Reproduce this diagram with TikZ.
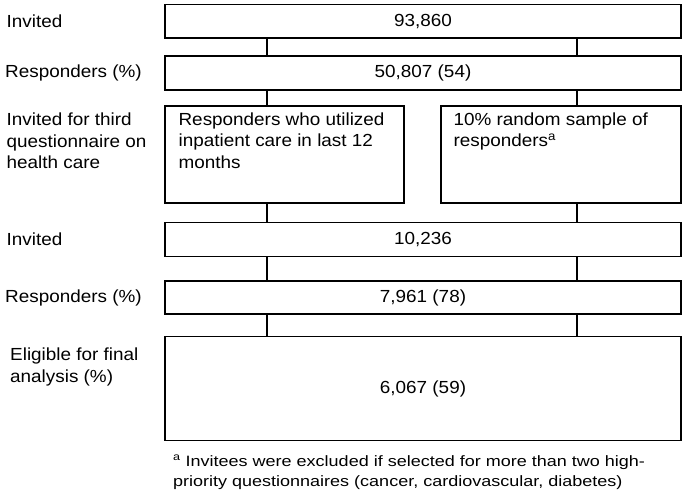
\documentclass[tikz,border=0pt]{standalone}
\usepackage{fontspec}
\setmainfont{Liberation Sans}[FakeStretch=1.08]
\newfontfamily\notefont{Liberation Sans}[FakeStretch=1.2]
\usetikzlibrary{positioning}

\begin{document}
\begin{tikzpicture}[x=1pt, y=-1pt, every node/.style={font=\fontsize{17.5}{21.5}\selectfont, inner sep=0pt}, box/.style={draw, line width=1.2pt, minimum width=516pt, minimum height=34pt}, lab/.style={anchor=west}, txt/.style={anchor=north west, align=left}, link/.style={line width=1.2pt}]
	\useasboundingbox (0,0) rectangle (685,493);
	\node[box, minimum height=33.5pt] (b1) at (423,21.25) {93,860};
	\node[box] (b2) at (423,73) {50,807 (54)};
	\node[box, minimum width=239pt, minimum height=97pt] (b3a) at (284.5,154.5) {};
	\node[box, minimum width=240pt, minimum height=97pt] (b3b) at (561,154.5) {};
	\node[box] (b4) at (423,239.7) {10,236};
	\node[box, minimum height=33pt] (b5) at (423,297.5) {7,961 (78)};
	\node[box, minimum height=104pt] (b6) at (423,388.7) {6,067 (59)};
	\node[txt, below right=6.9pt and 14pt of b3a.north west] (t3a) {Responders who utilized\\inpatient care in last 12\\months};
	\node[txt, below right=6.9pt and 13pt of b3b.north west] (t3b) {10\% random sample of\\responders\textsuperscript{a}};
	% row labels
	\node[lab] (l1) at (6.5,21.25) {Invited};
	\node[lab] (l2) at (5,73) {Responders (\%)};
	\node[txt] (l3) at (6.5,112.9) {Invited for third\\questionnaire on\\health care};
	\node[lab] (l4) at (6.5,239.7) {Invited};
	\node[lab] (l5) at (5,297.5) {Responders (\%)};
	\node[txt] (l6) at (10,347.7) {Eligible for final\\analysis (\%)};
	\node[txt, font=\notefont\fontsize{15}{20.5}\selectfont] (fn) at (173,455) {\textsuperscript{a} Invitees were excluded if selected for more than two high-\\priority questionnaires (cancer, cardiovascular, diabetes)};
	% connectors
	\coordinate (lx) at (267,0);
	\coordinate (rx) at (577,0);
	\foreach \a/\b in {b1/b2, b4/b5, b5/b6} {
		\draw[link] (\a.south -| lx) -- (\b.north -| lx);
		\draw[link] (\a.south -| rx) -- (\b.north -| rx);
	}
	\foreach \a/\b/\c in {b2/b3a/lx, b2/b3b/rx, b3a/b4/lx, b3b/b4/rx} {\draw[link] (\a.south -| \c) -- (\b.north -| \c);}
\end{tikzpicture}
\end{document}
